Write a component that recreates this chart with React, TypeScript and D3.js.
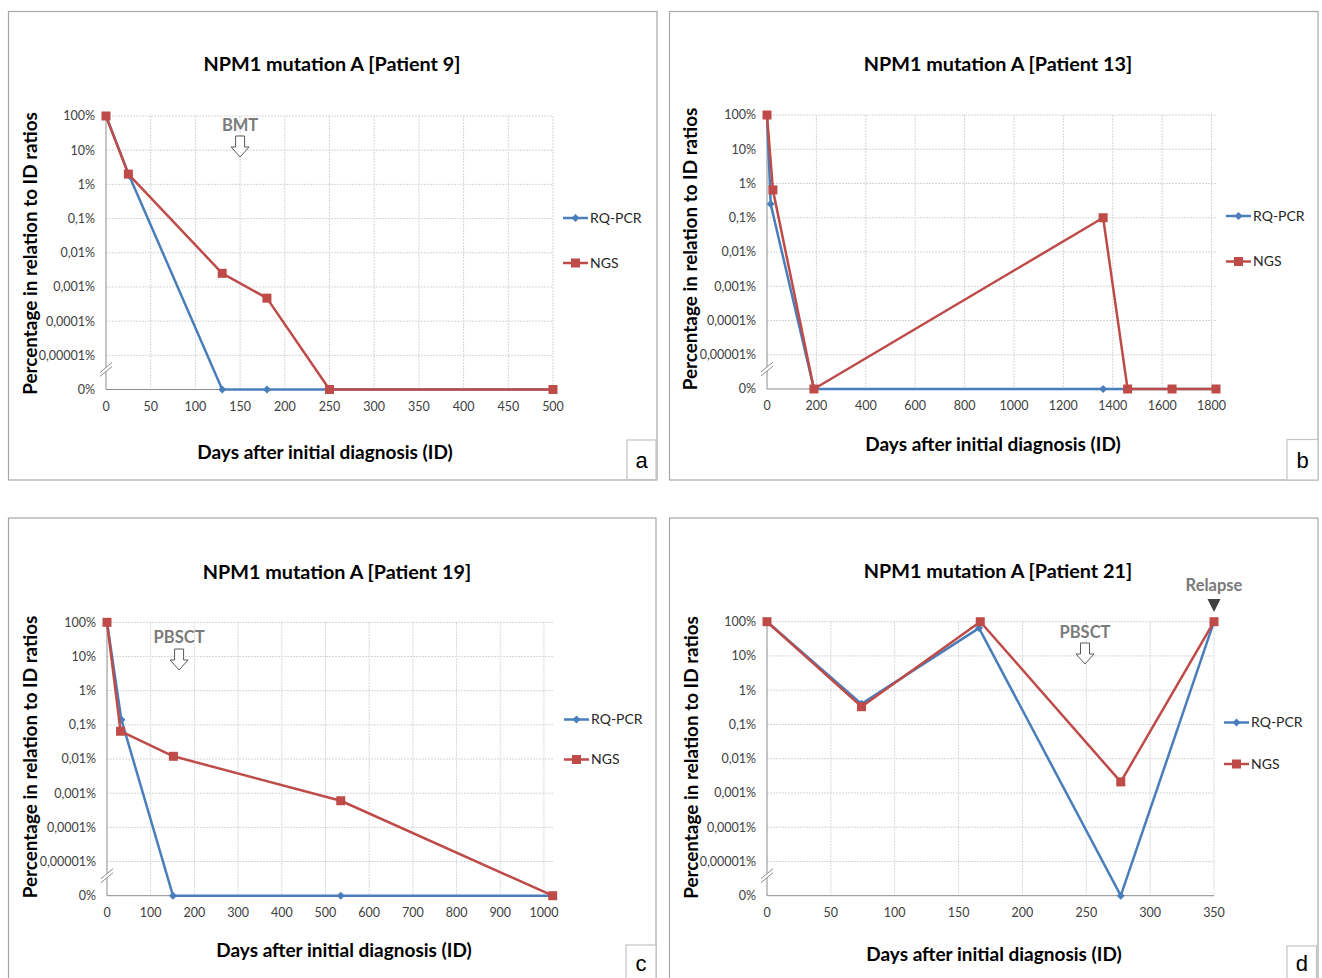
import React from 'react';
import * as d3 from 'd3';

const FONT = "Lato, 'Open Sans', sans-serif";
const BLUE = '#4a7ebb';
const RED = '#be4b48';
const ZERO_POS = 1e-6;

const yTickValues = [100, 10, 1, 0.1, 0.01, 0.001, 0.0001, 0.00001, 0];
const yTickLabels = ['100%', '10%', '1%', '0,1%', '0,01%', '0,001%', '0,0001%', '0,00001%', '0%'];
const seriesNames = ['RQ-PCR', 'NGS'];
const yAxisTitle = 'Percentage in relation to ID ratios';
const xAxisTitle = 'Days after initial diagnosis (ID)';

// Panel a — Patient 9
const aTitle = 'NPM1 mutation A [Patient 9]';
const aXTicks = [0, 50, 100, 150, 200, 250, 300, 350, 400, 450, 500];
const aPcrDays = [0, 26, 130, 180, 250, 500];
const aPcr = [100, 1.8, 0, 0, 0, 0];
const aNgsDays = [0, 25, 130, 180, 250, 500];
const aNgs = [100, 2, 0.0025, 0.00047, 0, 0];

// Panel b — Patient 13
const bTitle = 'NPM1 mutation A [Patient 13]';
const bXTicks = [0, 200, 400, 600, 800, 1000, 1200, 1400, 1600, 1800];
const bPcrDays = [0, 15, 190, 1361, 1460, 1640, 1818];
const bPcr = [100, 0.25, 0, 0, 0, 0, 0];
const bNgsDays = [0, 24, 190, 1361, 1460, 1640, 1818];
const bNgs = [100, 0.65, 0, 0.1, 0, 0, 0];

// Panel c — Patient 19
const cTitle = 'NPM1 mutation A [Patient 19]';
const cXTicks = [0, 100, 200, 300, 400, 500, 600, 700, 800, 900, 1000];
const cPcrDays = [0, 33, 151, 535, 1020];
const cPcr = [100, 0.14, 0, 0, 0];
const cNgsDays = [0, 31, 152, 535, 1020];
const cNgs = [100, 0.065, 0.012, 0.0006, 0];

// Panel d — Patient 21
const dTitle = 'NPM1 mutation A [Patient 21]';
const dXTicks = [0, 50, 100, 150, 200, 250, 300, 350];
const dPcrDays = [0, 74, 166, 277, 350];
const dPcr = [100, 0.4, 65, 0, 100];
const dNgsDays = [0, 74, 167, 277, 350];
const dNgs = [100, 0.33, 100, 0.0021, 100];

type Ann = { text: string; day: number; ty: number; ay: number; kind: 'hollow' | 'solid' };

type Cfg = {
  letter: string;
  title: string;
  xTicks: number[];
  xMax: number;
  pcrDays: number[]; pcr: number[];
  ngsDays: number[]; ngs: number[];
  border: [number, number, number, number];
  plot: [number, number, number, number];
  titleXY: [number, number];
  yTitleXY: [number, number];
  xTitleXY: [number, number];
  legend: [number, number, number];
  box: [number, number, number, number];
  anns: Ann[];
};

const panels: Cfg[] = [
  {
    letter: 'a', title: aTitle, xTicks: aXTicks, xMax: 500,
    pcrDays: aPcrDays, pcr: aPcr, ngsDays: aNgsDays, ngs: aNgs,
    border: [8.5, 11.5, 657, 480], plot: [106, 116, 553, 389.5],
    titleXY: [332, 64], yTitleXY: [30.5, 253.5], xTitleXY: [325, 452],
    legend: [563, 218, 263], box: [627, 440, 656, 479.5],
    anns: [{ text: 'BMT', day: 150, ty: 125, ay: 136, kind: 'hollow' }],
  },
  {
    letter: 'b', title: bTitle, xTicks: bXTicks, xMax: 1818,
    pcrDays: bPcrDays, pcr: bPcr, ngsDays: bNgsDays, ngs: bNgs,
    border: [669.5, 11.5, 1318, 480], plot: [767, 115, 1216, 389],
    titleXY: [998, 64], yTitleXY: [690, 249], xTitleXY: [993, 444],
    legend: [1226, 216, 261.5], box: [1287, 439.5, 1318, 480],
    anns: [],
  },
  {
    letter: 'c', title: cTitle, xTicks: cXTicks, xMax: 1023,
    pcrDays: cPcrDays, pcr: cPcr, ngsDays: cNgsDays, ngs: cNgs,
    border: [8.5, 518, 656, 990], plot: [107, 622.3, 554, 895.7],
    titleXY: [337, 572], yTitleXY: [30, 757], xTitleXY: [344, 950],
    legend: [564, 719.5, 759.5], box: [626, 945, 656, 990],
    anns: [{ text: 'PBSCT', day: 165, ty: 637, ay: 649, kind: 'hollow' }],
  },
  {
    letter: 'd', title: dTitle, xTicks: dXTicks, xMax: 350,
    pcrDays: dPcrDays, pcr: dPcr, ngsDays: dNgsDays, ngs: dNgs,
    border: [669.5, 518, 1318, 990], plot: [767, 621.7, 1214, 895.7],
    titleXY: [998, 571], yTitleXY: [691.5, 757.5], xTitleXY: [994, 954],
    legend: [1224, 722.5, 764], box: [1287, 946, 1316.5, 990],
    anns: [
      { text: 'PBSCT', day: 249, ty: 632.5, ay: 643, kind: 'hollow' },
      { text: 'Relapse', day: 350, ty: 585, ay: 599, kind: 'solid' },
    ],
  },
];

function diamondPath(cx: number, cy: number, r: number) {
  return `M${cx},${cy - r}L${cx + r},${cy}L${cx},${cy + r}L${cx - r},${cy}Z`;
}

function hollowArrow(cx: number, top: number) {
  const sw = 4.5, hw = 9, shaftH = 11, headH = 10;
  return `M${cx - sw},${top}L${cx + sw},${top}L${cx + sw},${top + shaftH}L${cx + hw},${top + shaftH}L${cx},${top + shaftH + headH}L${cx - hw},${top + shaftH}L${cx - sw},${top + shaftH}Z`;
}

function Panel({ cfg }: { cfg: Cfg }) {
  const [px0, py0, px1, py1] = cfg.plot;
  const x = d3.scaleLinear().domain([0, cfg.xMax]).range([px0, px1]);
  const y = d3.scaleLog().domain([ZERO_POS, 100]).range([py1, py0]);
  const yv = (v: number) => y(v === 0 ? ZERO_POS : v);
  const line = d3.line<[number, number]>().x(d => x(d[0])).y(d => yv(d[1]));
  const pcrPts: [number, number][] = cfg.pcrDays.map((d, i) => [d, cfg.pcr[i]]);
  const ngsPts: [number, number][] = cfg.ngsDays.map((d, i) => [d, cfg.ngs[i]]);
  const [bx0, by0, bx1, by1] = cfg.border;
  const [lx, ly1, ly2] = cfg.legend;
  const [kx0, ky0, kx1, ky1] = cfg.box;
  const brk = py1 - 19;
  return (
    <g>
      <rect x={bx0} y={by0} width={bx1 - bx0} height={by1 - by0} fill="#fff" stroke="#a6a6a6" strokeWidth={1.2} />
      {/* grid */}
      {yTickValues.slice(0, -1).map((v, i) => (
        <line key={'gy' + i} x1={px0} x2={px1} y1={yv(v)} y2={yv(v)} stroke="#d6d6d6" strokeWidth={1} strokeDasharray="2 1" />
      ))}
      {cfg.xTicks.slice(1).map((t, i) => (
        <line key={'gx' + i} x1={x(t)} x2={x(t)} y1={py0} y2={py1} stroke="#d6d6d6" strokeWidth={1} strokeDasharray="2 1" />
      ))}
      {/* axes */}
      <line x1={px0} x2={px0} y1={py0} y2={py1} stroke="#8c8c8c" strokeWidth={1} />
      <line x1={px0} x2={px1} y1={py1} y2={py1} stroke="#8c8c8c" strokeWidth={1} />
      {/* axis break */}
      <polygon points={`${px0 - 6},${brk + 6} ${px0 + 6},${brk - 4} ${px0 + 6},${brk - 8} ${px0 - 6},${brk + 2}`} fill="#fff" />
      <line x1={px0 - 6} y1={brk + 6} x2={px0 + 6} y2={brk - 4} stroke="#8c8c8c" strokeWidth={1} />
      <line x1={px0 - 6} y1={brk + 2} x2={px0 + 6} y2={brk - 8} stroke="#8c8c8c" strokeWidth={1} />
      {/* tick labels */}
      {yTickValues.map((v, i) => (
        <text key={'yl' + i} x={px0 - 11} y={yv(v)} dy="0.35em" textAnchor="end" fontFamily={FONT} fontSize={12.5} fill="#404040">{yTickLabels[i]}</text>
      ))}
      {cfg.xTicks.map((t, i) => (
        <text key={'xl' + i} x={x(t)} y={py1 + 17} dy="0.35em" textAnchor="middle" fontFamily={FONT} fontSize={12.5} fill="#404040">{t}</text>
      ))}
      {/* series */}
      <path d={line(pcrPts) || ''} fill="none" stroke={BLUE} strokeWidth={2.5} strokeLinejoin="round" />
      {pcrPts.map((p, i) => (
        <path key={'pm' + i} d={diamondPath(x(p[0]), yv(p[1]), 4)} fill={BLUE} />
      ))}
      <path d={line(ngsPts) || ''} fill="none" stroke={RED} strokeWidth={2.5} strokeLinejoin="round" />
      {ngsPts.map((p, i) => (
        <rect key={'nm' + i} x={x(p[0]) - 4.5} y={yv(p[1]) - 4.5} width={9} height={9} fill={RED} />
      ))}
      {/* annotations */}
      {cfg.anns.map((a, i) => (
        <g key={'an' + i}>
          <text x={x(a.day)} y={a.ty} dy="0.35em" textAnchor="middle" fontFamily={FONT} fontWeight="bold" fontSize={16.5} fill="#7a7a7a">{a.text}</text>
          {a.kind === 'hollow' ? (
            <path d={hollowArrow(x(a.day), a.ay)} fill="#fff" stroke="#595959" strokeWidth={1} />
          ) : (
            <path d={`M${x(a.day) - 6.5},${a.ay}L${x(a.day) + 6.5},${a.ay}L${x(a.day)},${a.ay + 13}Z`} fill="#404040" />
          )}
        </g>
      ))}
      {/* legend */}
      <line x1={lx} x2={lx + 25} y1={ly1} y2={ly1} stroke={BLUE} strokeWidth={2.5} />
      <path d={diamondPath(lx + 12.5, ly1, 4)} fill={BLUE} />
      <text x={lx + 27} y={ly1} dy="0.35em" fontFamily={FONT} fontSize={14} fill="#262626">{seriesNames[0]}</text>
      <line x1={lx} x2={lx + 25} y1={ly2} y2={ly2} stroke={RED} strokeWidth={2.5} />
      <rect x={lx + 8} y={ly2 - 4.5} width={9} height={9} fill={RED} />
      <text x={lx + 27} y={ly2} dy="0.35em" fontFamily={FONT} fontSize={14} fill="#262626">{seriesNames[1]}</text>
      {/* titles */}
      <text x={cfg.titleXY[0]} y={cfg.titleXY[1]} dy="0.35em" textAnchor="middle" fontFamily={FONT} fontWeight="bold" fontSize={19.8} fill="#000">{cfg.title}</text>
      <text transform={`translate(${cfg.yTitleXY[0]},${cfg.yTitleXY[1]}) rotate(-90)`} dy="0.35em" textAnchor="middle" fontFamily={FONT} fontWeight="bold" fontSize={18.9} fill="#000">{yAxisTitle}</text>
      <text x={cfg.xTitleXY[0]} y={cfg.xTitleXY[1]} dy="0.35em" textAnchor="middle" fontFamily={FONT} fontWeight="bold" fontSize={19} fill="#000">{xAxisTitle}</text>
      {/* panel letter */}
      <rect x={kx0} y={ky0} width={kx1 - kx0} height={ky1 - ky0} fill="#fff" stroke="#c4c4c4" strokeWidth={1.2} />
      <text x={(kx0 + kx1) / 2} y={(ky0 + Math.min(ky1, 979)) / 2 + 1} dy="0.35em" textAnchor="middle" fontFamily="'Liberation Sans', Arial, sans-serif" fontSize={22} fill="#000">{cfg.letter}</text>
    </g>
  );
}

export default function App() {
  return (
    <div style={{ position: 'absolute', left: 0, top: 0, width: 1322, height: 978, overflow: 'hidden', background: '#fff' }}>
      <svg width={1322} height={978} style={{ display: 'block' }}>
        <rect x={0} y={0} width={1322} height={978} fill="#fff" />
        {panels.map(p => <Panel key={p.letter} cfg={p} />)}
      </svg>
    </div>
  );
}
